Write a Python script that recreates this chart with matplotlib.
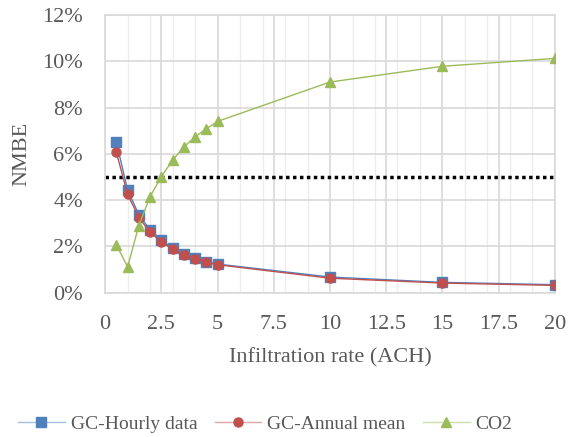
import numpy as np
import matplotlib.pyplot as plt
from matplotlib.ticker import MultipleLocator, FuncFormatter

plt.rcParams['font.family'] = ['Liberation Serif', 'DejaVu Serif']

ach = [0.5, 1, 1.5, 2, 2.5, 3, 3.5, 4, 4.5, 5, 10, 15, 20]
gc_hourly = [6.5, 4.45, 3.37, 2.72, 2.26, 1.93, 1.68, 1.5, 1.34, 1.24, 0.68, 0.45, 0.35]
gc_annual = [6.07, 4.26, 3.25, 2.62, 2.19, 1.89, 1.64, 1.47, 1.32, 1.21, 0.63, 0.42, 0.32]
co2 = [2.08, 1.12, 2.9, 4.15, 5.02, 5.72, 6.3, 6.73, 7.08, 7.4, 9.1, 9.78, 10.12]
threshold = 5.0

series = [
    (gc_hourly, '#4F81BD', '#A7C0DE', 's', 'GC-Hourly data', 3),
    (gc_annual, '#C0504D', '#E0A8A6', 'o', 'GC-Annual mean', 4),
    (co2, '#9BBB59', '#CDDDAC', '^', 'CO2', 5),
]

fig = plt.figure(figsize=(5.68, 4.37), dpi=100)
ax = fig.add_axes([0.185, 0.33, 0.792, 0.636])

for vals, col, light, mk, lab, z in series:
    ax.plot(ach, vals, color=col, marker=mk, markersize=6.5, lw=1,
            markerfacecolor=col, markeredgecolor=col, label=lab, zorder=z)
ax.axhline(threshold, color='black', lw=2.5, ls=(0, (1, 1)), zorder=2)

ax.set_xlim(0, 20)
ax.set_ylim(0, 12)
ax.xaxis.set_major_locator(MultipleLocator(2.5))
ax.xaxis.set_minor_locator(MultipleLocator(1))
ax.yaxis.set_major_locator(MultipleLocator(2))
ax.xaxis.set_major_formatter(FuncFormatter(lambda v, p: f'{v:g}'))
ax.yaxis.set_major_formatter(FuncFormatter(lambda v, p: f'{v:.0f}%'))

ax.grid(which='major', color='#D9D9D9', lw=1.2)
ax.grid(which='minor', axis='x', color='#EDEDED', lw=1)
ax.tick_params(which='both', length=0, labelsize=16, labelcolor='#595959')
ax.tick_params(axis='y', pad=16)
ax.tick_params(axis='x', pad=16)
for s in ax.spines.values():
    s.set_color('#D9D9D9')
    s.set_linewidth(1.2)

ax.set_xlabel('Infiltration rate (ACH)', fontsize=16, color='#595959', labelpad=10)
ax.set_ylabel('NMBE', fontsize=16, color='#595959', labelpad=8)

leg = fig.legend(loc='center', bbox_to_anchor=(0.467, 0.03), ncol=3, frameon=False,
                 fontsize=14, handlelength=2.4, columnspacing=0.9, handletextpad=0.3,
                 labelcolor='#595959')
for h, (vals, col, light, mk, lab, z) in zip(leg.legend_handles, series):
    h.set_color(light)

fig.savefig('out.png', dpi=100)
